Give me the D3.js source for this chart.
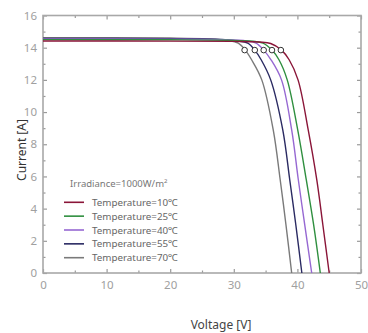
<!DOCTYPE html>
<html>
<head>
<meta charset="utf-8">
<script src="https://cdn.jsdelivr.net/npm/d3@7"></script>
<style>
  body { margin: 0; background: #fff; }
  text { font-family: "Noto Sans", sans-serif; }
</style>
</head>
<body>
<div id="chart"></div>
<script>
// I-V curves: [voltage, current]
var temps = ["10", "25", "40", "55", "70"];
var colors = ["#8a1538", "#2f8f3f", "#9668d2", "#2a2a62", "#7a7a7a"];

var curve10 = [[0,14.42],[20,14.41],[30,14.39],[34,14.35],[35.8,14.26],[37.5,13.85],[38.7,13.25],[40.1,12.0],[41.7,8.89],[43.05,5.78],[44.0,3.0],[45.0,0]];
var curve25 = [[0,14.5],[20,14.49],[29,14.46],[33,14.4],[34.6,14.28],[36.0,13.85],[37.1,13.25],[38.4,12.0],[40.05,8.89],[41.4,5.78],[42.55,3.0],[43.6,0]];
var curve40 = [[0,14.55],[20,14.53],[28,14.5],[32,14.42],[33.5,14.28],[34.7,13.85],[35.85,13.25],[37.5,12.0],[39.1,8.89],[40.15,5.78],[41.15,3.0],[42.25,0]];
var curve55 = [[0,14.58],[20,14.56],[27,14.52],[30.5,14.42],[32.2,14.28],[33.3,13.85],[34.3,13.25],[35.8,12.0],[37.7,8.89],[38.8,5.78],[39.75,3.0],[40.7,0]];
var curve70 = [[0,14.62],[20,14.6],[26,14.55],[29,14.45],[30.7,14.28],[31.8,13.85],[32.8,13.25],[34.4,12.0],[36.2,8.89],[37.3,5.78],[38.2,3.0],[39.1,0]];
var curves = [curve10, curve25, curve40, curve55, curve70];

// maximum power points
var mppV = [37.4, 36.0, 34.7, 33.3, 31.7];
var mppI = [13.85, 13.85, 13.85, 13.85, 13.85];

var xTicks = [0, 10, 20, 30, 40, 50];
var yTicks = [0, 2, 4, 6, 8, 10, 12, 14, 16];

var W = 368, H = 333;
var margin = {top: 15.5, right: 7, bottom: 60, left: 43},
  width = W - margin.left - margin.right,
  height = 273 - margin.top;

var svg = d3.select("#chart").append("svg")
  .attr("width", W).attr("height", H)
  .append("g")
  .attr("transform", "translate(" + margin.left + "," + margin.top + ")");

var x = d3.scaleLinear().domain([0, 50]).range([0, width]);
var y = d3.scaleLinear().domain([0, 16]).range([height, 0]);

var tickCol = "#9a9a9a";
var minorX = d3.range(5, 50, 10);
var minorY = d3.range(1, 16, 2);

// inward ticks on all four sides
function styleAxis(g) {
  g.select(".domain").remove();
  g.selectAll("line").attr("stroke", tickCol).attr("stroke-width", 1.2);
  g.selectAll("text").attr("fill", "#a0a0a0").attr("font-size", "11.5px");
}
svg.append("g").attr("transform", "translate(0," + height + ")")
  .call(d3.axisBottom(x).tickValues(xTicks).tickSizeInner(-4).tickSizeOuter(0).tickPadding(8))
  .call(styleAxis);
svg.append("g").attr("transform", "translate(0," + height + ")")
  .call(d3.axisBottom(x).tickValues(minorX).tickSize(-2.5).tickFormat(""))
  .call(styleAxis);
svg.append("g")
  .call(d3.axisTop(x).tickValues(xTicks).tickSize(-4).tickFormat(""))
  .call(styleAxis);
svg.append("g")
  .call(d3.axisTop(x).tickValues(minorX).tickSize(-2.5).tickFormat(""))
  .call(styleAxis);
svg.append("g")
  .call(d3.axisLeft(y).tickValues(yTicks).tickSizeInner(-4).tickSizeOuter(0).tickPadding(6))
  .call(styleAxis);
svg.append("g")
  .call(d3.axisLeft(y).tickValues(minorY).tickSize(-2.5).tickFormat(""))
  .call(styleAxis);
svg.append("g").attr("transform", "translate(" + width + ",0)")
  .call(d3.axisRight(y).tickValues(yTicks).tickSize(-4).tickFormat(""))
  .call(styleAxis);
svg.append("g").attr("transform", "translate(" + width + ",0)")
  .call(d3.axisRight(y).tickValues(minorY).tickSize(-2.5).tickFormat(""))
  .call(styleAxis);

svg.append("rect")
  .attr("x", 0).attr("y", 0).attr("width", width).attr("height", height)
  .attr("fill", "none").attr("stroke", "#a8a8a8").attr("stroke-width", 1.6);

var line = d3.line()
  .x(function(d) { return x(d[0]); })
  .y(function(d) { return y(d[1]); })
  .curve(d3.curveCatmullRom.alpha(0.5));

// draw hottest first so the 10°C curve sits on top
for (var i = curves.length - 1; i >= 0; i--) {
  svg.append("path")
    .datum(curves[i])
    .attr("d", line)
    .attr("fill", "none")
    .attr("stroke", colors[i])
    .attr("stroke-width", 1.4);
}

svg.selectAll(".mpp")
  .data(mppV)
  .enter().append("circle")
  .attr("class", "mpp")
  .attr("cx", function(d) { return x(d); })
  .attr("cy", function(d, i) { return y(mppI[i]); })
  .attr("r", 2.8)
  .attr("fill", "#fff")
  .attr("stroke", "#333")
  .attr("stroke-width", 1);

// legend
var irr = svg.append("text")
  .attr("x", 27).attr("y", 171)
  .attr("fill", "#777").attr("font-size", "9.5px");
irr.append("tspan").text("Irradiance=1000W/m");
irr.append("tspan").attr("font-size", "6px").attr("dy", "-3.5").text("2");

var leg = svg.selectAll(".leg")
  .data(temps)
  .enter().append("g")
  .attr("class", "leg")
  .attr("transform", function(d, i) { return "translate(0," + (186.8 + i * 13.85) + ")"; });
leg.append("line")
  .attr("x1", 21).attr("x2", 41).attr("y1", 0).attr("y2", 0)
  .attr("stroke", function(d, i) { return colors[i]; })
  .attr("stroke-width", 1.6);
leg.append("text")
  .attr("x", 49).attr("y", 3.5)
  .attr("fill", "#666").attr("font-size", "9.8px")
  .text(function(d) { return "Temperature=" + d + "℃"; });

// axis titles
svg.append("text")
  .attr("transform", "translate(-21," + (150 - margin.top) + ") rotate(-90)")
  .attr("text-anchor", "middle")
  .attr("dy", "0.35em")
  .attr("fill", "#333").attr("font-size", "12px")
  .text("Current [A]");
svg.append("text")
  .attr("x", 221 - margin.left).attr("y", 329 - margin.top)
  .attr("text-anchor", "middle")
  .attr("fill", "#444").attr("font-size", "12px")
  .text("Voltage [V]");
</script>
</body>
</html>
